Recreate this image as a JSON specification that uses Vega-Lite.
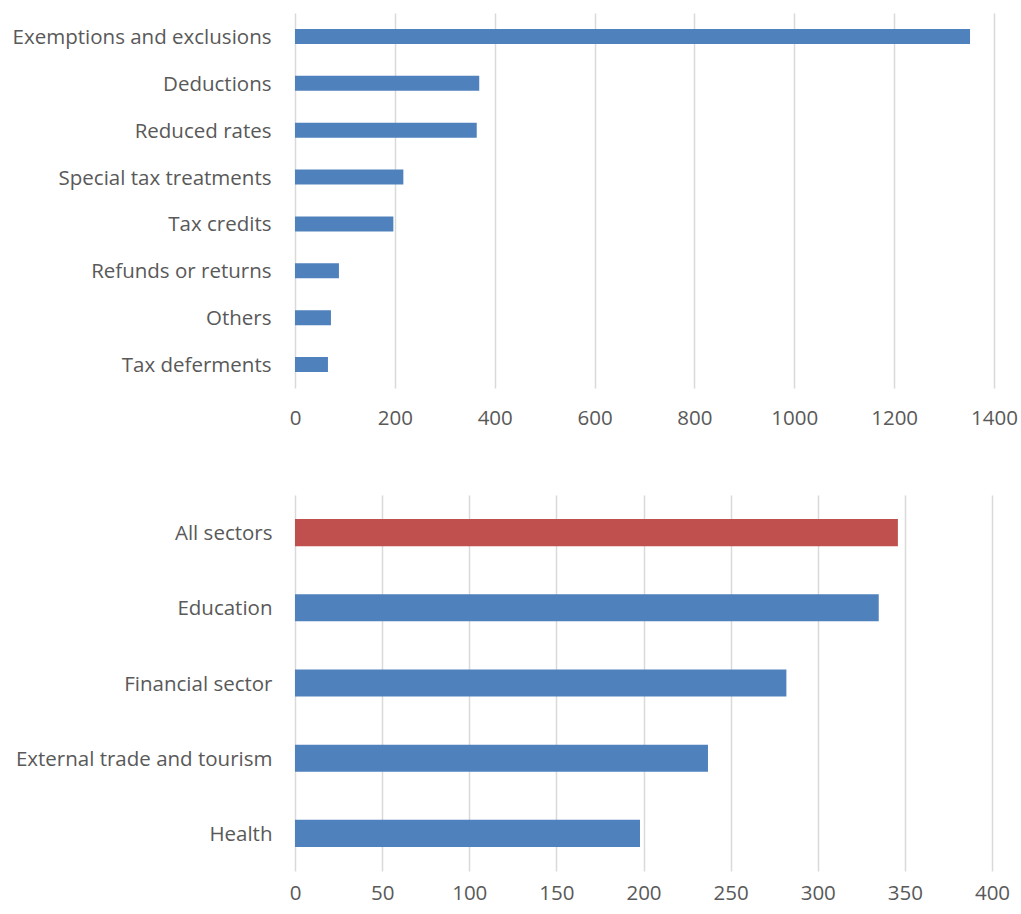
{
  "$schema": "https://vega.github.io/schema/vega-lite/v6.json",
  "background": "white",
  "padding": {"left": 12, "top": 13, "right": 20, "bottom": 5},
  "spacing": 66,
  "config": {
    "view": {"stroke": null},
    "font": "Open Sans",
    "axis": {
      "labelFont": "Open Sans",
      "labelFontSize": 20.5,
      "labelColor": "#595959",
      "labelLimit": 0,
      "labelFlush": false,
      "labelOverlap": false,
      "title": null,
      "ticks": false,
      "domain": false,
      "gridColor": "#d9d9d9",
      "gridWidth": 1.5
    }
  },
  "vconcat": [
    {
      "width": 699,
      "height": 375,
      "data": {
        "values": [
          {"category": "Exemptions and exclusions", "count": 1352},
          {"category": "Deductions", "count": 369},
          {"category": "Reduced rates", "count": 364},
          {"category": "Special tax treatments", "count": 217},
          {"category": "Tax credits", "count": 197},
          {"category": "Refunds or returns", "count": 88},
          {"category": "Others", "count": 72},
          {"category": "Tax deferments", "count": 66}
        ]
      },
      "mark": {"type": "bar", "color": "#4f81bd"},
      "encoding": {
        "y": {
          "field": "category",
          "type": "nominal",
          "sort": null,
          "scale": {"paddingInner": 0.68, "paddingOuter": 0.34},
          "axis": {"grid": false, "labelPadding": 24, "labelOffset": 1.5}
        },
        "x": {
          "field": "count",
          "type": "quantitative",
          "scale": {"domain": [0, 1400], "nice": false},
          "axis": {"values": [0, 200, 400, 600, 800, 1000, 1200, 1400], "format": "d", "grid": true, "labelPadding": 20}
        }
      }
    },
    {
      "width": 697,
      "height": 376,
      "data": {
        "values": [
          {"sector": "All sectors", "count": 346},
          {"sector": "Education", "count": 335},
          {"sector": "Financial sector", "count": 282},
          {"sector": "External trade and tourism", "count": 237},
          {"sector": "Health", "count": 198}
        ]
      },
      "mark": {"type": "bar"},
      "encoding": {
        "y": {
          "field": "sector",
          "type": "nominal",
          "sort": null,
          "scale": {"paddingInner": 0.64, "paddingOuter": 0.32},
          "axis": {"grid": false, "labelPadding": 23, "labelOffset": 1.5}
        },
        "x": {
          "field": "count",
          "type": "quantitative",
          "scale": {"domain": [0, 400], "nice": false},
          "axis": {"values": [0, 50, 100, 150, 200, 250, 300, 350, 400], "format": "d", "grid": true, "labelPadding": 12}
        },
        "color": {
          "condition": {"test": "datum.sector === 'All sectors'", "value": "#c0504d"},
          "value": "#4f81bd"
        }
      }
    }
  ]
}
